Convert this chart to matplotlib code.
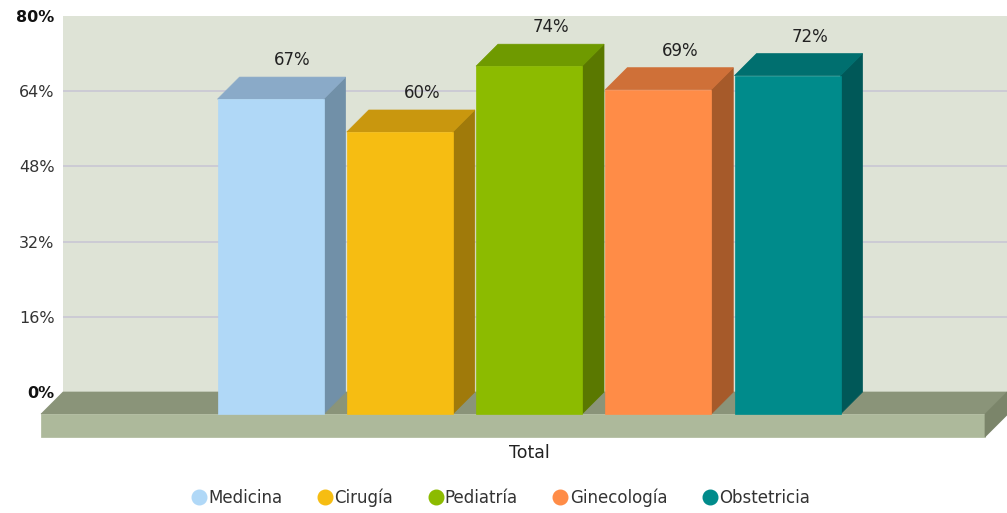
import matplotlib
matplotlib.use("Agg")
import matplotlib.pyplot as plt
from matplotlib.patches import Polygon
from matplotlib.lines import Line2D
import numpy as np

plt.rcParams["font.family"] = ["DejaVu Sans"]

# Data
categories = ["Total"]
series = ["Medicina", "Cirugía", "Pediatría", "Ginecología", "Obstetricia"]
values = [67, 60, 74, 69, 72]
front_colors = ["#b0d8f7", "#f6bd12", "#8cbb00", "#ff8c47", "#008b8b"]
top_colors = ["#8aaac8", "#c9970e", "#6f9a00", "#cf7038", "#006f6f"]
side_colors = ["#7190a8", "#a07a0a", "#5a7800", "#a65a2a", "#005858"]
y_ticks = [0, 16, 32, 48, 64, 80]
y_tick_labels = ["0%", "16%", "32%", "48%", "64%", "80%"]

W, H, DPI = 1007, 513, 100
fig = plt.figure(figsize=(W / DPI, H / DPI), dpi=DPI, facecolor="white")

# back wall of the 3D plot area
ax = fig.add_axes([63 / W, (H - 392) / H, (W - 63) / W, (392 - 16) / H])
ax.set_facecolor("#dee3d6")
for s in ax.spines.values():
    s.set_visible(False)

x = np.arange(len(series))
bar_w = 0.82
ax.set_xlim(-1.776, 5.528)
ax.set_ylim(0, 80)

ax.set_yticks(y_ticks)
ax.set_yticklabels(y_tick_labels)
for lbl, t in zip(ax.get_yticklabels(), y_ticks):
    lbl.set_fontsize(11.5)
    lbl.set_color("#333333")
    if t in (0, 80):
        lbl.set_fontweight("bold")
        lbl.set_color("#111111")
ax.tick_params(axis="y", length=0, pad=6)
ax.set_xticks([])

# horizontal grid lines on the back wall (inner ticks only)
for t in y_ticks[1:-1]:
    ax.axhline(t, color="#cbc9d4", linewidth=1.3, zorder=1)

# depth vector (22 px to the left and down) and floor thickness in data units
inv = ax.transData.inverted()
o = inv.transform((0, 0))
d = inv.transform((-22, -22))
ddx, ddy = d[0] - o[0], d[1] - o[1]
th = inv.transform((0, -23))[1] - o[1]

xl, xr = ax.get_xlim()

def poly(pts, color, z):
    ax.add_patch(Polygon(pts, closed=True, facecolor=color, edgecolor=color,
                         linewidth=0.5, clip_on=False, zorder=z))

# floor slab
poly([(xl, 0), (xr, 0), (xr + ddx, ddy), (xl + ddx, ddy)], "#8a9479", 3)
poly([(xl + ddx, ddy), (xr + ddx, ddy), (xr + ddx, ddy + th), (xl + ddx, ddy + th)], "#adb99b", 3)
poly([(xr + ddx, ddy), (xr, 0), (xr, th), (xr + ddx, ddy + th)], "#7b856a", 3)

# 3D bars
for xi, v, fc, tc, sc in zip(x, values, front_colors, top_colors, side_colors):
    x0, x1 = xi - bar_w / 2, xi + bar_w / 2
    poly([(x1 + ddx, ddy), (x1, 0), (x1, v), (x1 + ddx, v + ddy)], sc, 4)
    poly([(x0 + ddx, v + ddy), (x1 + ddx, v + ddy), (x1, v), (x0, v)], tc, 4)
    poly([(x0 + ddx, ddy), (x1 + ddx, ddy), (x1 + ddx, v + ddy), (x0 + ddx, v + ddy)], fc, 5)
    ax.annotate(f"{v}%", xy=(xi, v), xytext=(0, 8), textcoords="offset pixels",
                ha="center", va="bottom", fontsize=12, color="#222222",
                annotation_clip=False, zorder=6)

# category label under the floor
ax.annotate(categories[0], xy=(x.mean() + ddx, ddy + th), xytext=(0, -7),
            textcoords="offset pixels", ha="center", va="top", fontsize=12.5,
            color="#222222", annotation_clip=False)

# legend
handles = [Line2D([0], [0], marker="o", linestyle="none", markersize=10.5,
                  markerfacecolor=c, markeredgecolor=c) for c in front_colors]
leg = fig.legend(handles, series, loc="center", bbox_to_anchor=(500 / W, (H - 498) / H),
                 ncol=5, frameon=False, fontsize=12, handletextpad=0.0,
                 columnspacing=2.0, handlelength=1.1)
for t in leg.get_texts():
    t.set_color("#333333")

fig.savefig("out.png", dpi=DPI, facecolor="white")
